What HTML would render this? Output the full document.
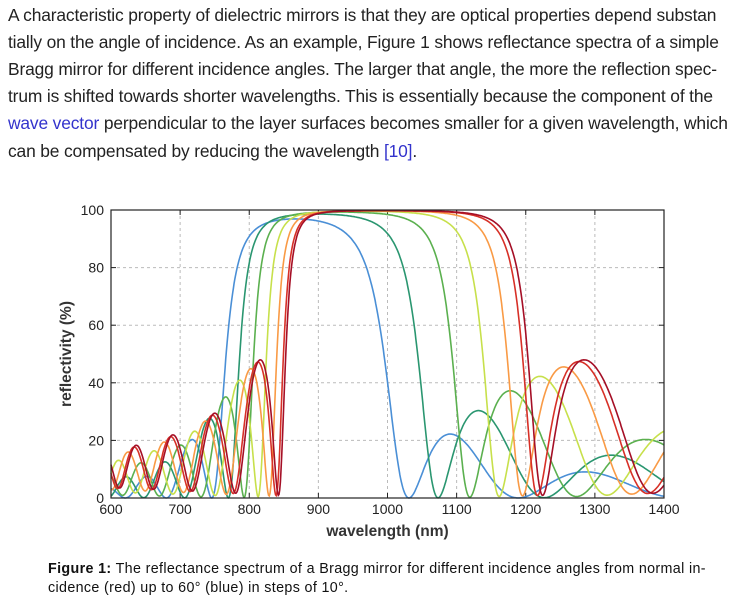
<!DOCTYPE html>
<html><head><meta charset="utf-8"><style>
body{margin:0;background:#fff;width:731px;height:607px;overflow:hidden;font-family:"Liberation Sans",sans-serif;color:#222}
.t{position:absolute;left:8px;font-size:17.4px;white-space:nowrap;letter-spacing:-0.15px}
a{color:#3333cc;text-decoration:none}
.c{position:absolute;left:48px;font-size:14.3px;white-space:nowrap;color:#111;letter-spacing:0.35px}
</style></head><body>
<div class="t" style="top:5px">A characteristic property of dielectric mirrors is that they are optical properties depend substan</div>
<div class="t" style="top:32px">tially on the angle of incidence. As an example, Figure 1 shows reflectance spectra of a simple</div>
<div class="t" style="top:59px">Bragg mirror for different incidence angles. The larger that angle, the more the reflection spec-</div>
<div class="t" style="top:86px">trum is shifted towards shorter wavelengths. This is essentially because the component of the</div>
<div class="t" style="top:113px"><a>wave vector</a> perpendicular to the layer surfaces becomes smaller for a given wavelength, which</div>
<div class="t" style="top:141px">can be compensated by reducing the wavelength <a>[10]</a>.</div>
<svg id="s" width="731" height="607" style="position:absolute;left:0;top:0" font-family="Liberation Sans, sans-serif"></svg>
<div class="c" style="top:561px"><b>Figure 1:</b> The reflectance spectrum of a Bragg mirror for different incidence angles from normal in-</div>
<div class="c" style="top:580px">cidence (red) up to 60° (blue) in steps of 10°.</div>
<script>
const L=111,R=664,T=210,B=498;
const X=w=>L+(w-600)/800*(R-L), Y=r=>B-r/100*(B-T);
let h='';
for(let w=700;w<=1300;w+=100)h+=`<line x1="${X(w)}" x2="${X(w)}" y1="${T}" y2="${B}" stroke="#bbb" stroke-dasharray="3,3"/>`;
for(let r=20;r<=80;r+=20)h+=`<line x1="${L}" x2="${R}" y1="${Y(r)}" y2="${Y(r)}" stroke="#bbb" stroke-dasharray="3,3"/>`;
for(let w=600;w<=1400;w+=100){h+=`<text x="${X(w)}" y="${B+16}" font-size="14" text-anchor="middle" fill="#222">${w}</text><line x1="${X(w)}" x2="${X(w)}" y1="${B}" y2="${B-5}" stroke="#222"/><line x1="${X(w)}" x2="${X(w)}" y1="${T}" y2="${T+5}" stroke="#222"/>`;}
for(let r=0;r<=100;r+=20){h+=`<text x="${L-7}" y="${Y(r)+5}" font-size="14" text-anchor="end" fill="#222">${r}</text><line x1="${L}" x2="${L+5}" y1="${Y(r)}" y2="${Y(r)}" stroke="#222"/><line x1="${R}" x2="${R-5}" y1="${Y(r)}" y2="${Y(r)}" stroke="#222"/>`;}
const nH=2.3,nL=1.47,n0=1,ns=1.5,l0=998,N=7;
function refl(lam,th,tm){
 const s0=Math.sin(th);
 const eta=n=>{const c=Math.sqrt(1-(n0*s0/n)**2);return [tm?n/c:n*c,c];};
 let m=[[1,0],[0,0],[0,0],[1,0]];
 const layers=[];for(let i=0;i<N;i++){layers.push(nH,nL);}layers.push(nH);
 const mul=(p,q)=>[p[0]*q[0]-p[1]*q[1],p[0]*q[1]+p[1]*q[0]];
 const add=(p,q)=>[p[0]+q[0],p[1]+q[1]];
 for(const n of layers){
  const [e,c]=eta(n);const d=l0/4/n;const del=2*Math.PI*n*d*c/lam;
  const cs=Math.cos(del),sn=Math.sin(del);
  const a=[cs,0],b=[0,sn/e],cc=[0,e*sn],dd=[cs,0];
  m=[add(mul(m[0],a),mul(m[1],cc)),add(mul(m[0],b),mul(m[1],dd)),add(mul(m[2],a),mul(m[3],cc)),add(mul(m[2],b),mul(m[3],dd))];
 }
 const e0=eta(n0)[0],es=eta(ns)[0];
 const A=[e0*m[0][0]+e0*es*m[1][0],e0*m[0][1]+e0*es*m[1][1]];
 const Bc=[m[2][0]+es*m[3][0],m[2][1]+es*m[3][1]];
 const num=[A[0]-Bc[0],A[1]-Bc[1]],den=[A[0]+Bc[0],A[1]+Bc[1]];
 return (num[0]**2+num[1]**2)/(den[0]**2+den[1]**2);
}
const cols=["#a50f26","#d73027","#f99a45","#c7e04b","#5bb04f","#2a9670","#4a8fd6"];
for(let k=6;k>=0;k--){
 const th=k*10*Math.PI/180;let p='';
 for(let w=600;w<=1400;w+=1){const r=100*refl(w,th,1);p+=(w==600?'M':'L')+X(w).toFixed(1)+','+Y(r).toFixed(1);}
 h+=`<path d="${p}" fill="none" stroke="${cols[k]}" stroke-width="1.6"/>`;
}
h+=`<rect x="${L}" y="${T}" width="${R-L}" height="${B-T}" fill="none" stroke="#222" stroke-width="1.2"/>`;
h+=`<text x="${(L+R)/2}" y="536" font-size="15.5" font-weight="bold" text-anchor="middle" fill="#333">wavelength (nm)</text>`;
h+=`<text transform="translate(71,354) rotate(-90)" font-size="15.5" font-weight="bold" text-anchor="middle" fill="#333">reflectivity (%)</text>`;
document.getElementById('s').innerHTML=h;
</script>
</body></html>
